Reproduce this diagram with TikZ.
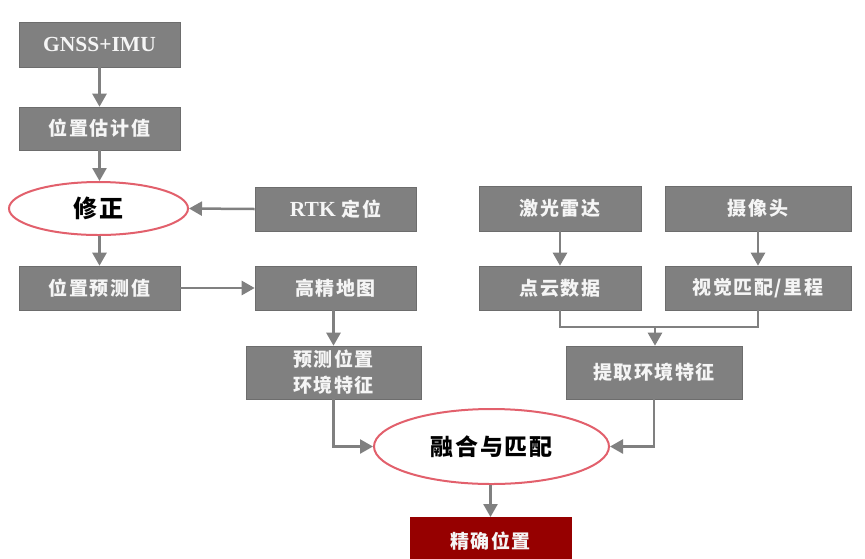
\documentclass[tikz,border=0pt]{standalone}
\usepackage{fontspec}
\setmainfont{Liberation Serif}
\newfontfamily\cjk[LetterSpace=8]{Noto Sans CJK SC}
\usetikzlibrary{arrows.meta,shapes.geometric,calc}
\definecolor{boxgray}{RGB}{128,128,128}
\definecolor{ringred}{RGB}{226,96,108}
\definecolor{darkred}{RGB}{150,0,0}
\definecolor{txtwhite}{RGB}{245,245,245}
\newcommand{\lat}[1]{{\rmfamily\fontsize{21.5}{23}\selectfont\bfseries #1}}
\begin{document}
\begin{tikzpicture}[x=1pt,y=-1pt,
  graybox/.style={rectangle,fill=boxgray,draw=boxgray!85!black,line width=0.6pt,text=txtwhite,
    font=\cjk\fontsize{19}{24}\selectfont\bfseries,inner sep=0pt,align=center},
  redbox/.style={graybox,fill=darkred,draw=darkred},
  ring/.style={ellipse,draw=ringred,line width=2pt,fill=white,text=black,inner sep=0pt,
    font=\cjk\fontsize{23}{26}\selectfont\bfseries},
  conn/.style={draw=boxgray,line width=2.5pt},
  arr/.style={conn,-{Triangle[length=13pt,width=14pt]}}
]
\useasboundingbox (0,0) rectangle (865,558);
% left column
\node[graybox,minimum width=161pt,minimum height=45pt] (gnss) at (99.5,44.5) {\lat{GNSS+IMU}};
\node[graybox,minimum width=161pt,minimum height=43pt] (est) at (99.5,128.5) {位置估计值};
\node[ring,minimum width=179pt,minimum height=53pt] (fix) at (98.5,208.5) {\fontsize{24}{26}\selectfont 修正};
\node[graybox,minimum width=161pt,minimum height=44pt] (rtk) at (335.5,209) {\lat{RTK} 定位};
\node[graybox,minimum width=161pt,minimum height=44pt] (pred) at (99.5,288) {位置预测值};
\node[graybox,minimum width=161pt,minimum height=44pt] (map) at (335.5,288) {高精地图};
\node[graybox,minimum width=175pt,minimum height=53pt] (predenv) at (333.5,372.5) {预测位置\\[2pt]环境特征};
% right column
\node[graybox,minimum width=162pt,minimum height=45pt] (lidar) at (560,208.5) {激光雷达};
\node[graybox,minimum width=186pt,minimum height=45pt] (cam) at (758,208.5) {摄像头};
\node[graybox,minimum width=162pt,minimum height=44pt] (cloud) at (560,288) {点云数据};
\node[graybox,minimum width=186pt,minimum height=44pt] (vis) at (758,288) {视觉匹配/里程};
\node[graybox,minimum width=176pt,minimum height=53pt] (extract) at (654,372.5) {提取环境特征};
% bottom
\node[ring,minimum width=235pt,minimum height=75pt] (fuse) at (491.5,446.5) {融合与匹配};
\node[redbox,minimum width=161pt,minimum height=48pt,anchor=north] (final) at (490.5,517) {精确位置};
\coordinate (merge) at (655,327);
% connectors
\draw[arr] (gnss.south) -- (est.north);
\draw[arr] (est.south) -- (est.south |- fix.north);
\draw[arr] (rtk.west) -- (fix.east);
\draw[arr] (fix.south -| pred.north) -- (pred.north);
\draw[arr] (pred.east) -- (map.west);
\draw[arr] (predenv.north |- map.south) -- (predenv.north);
\draw[arr] (lidar.south) -- (cloud.north);
\draw[arr] (cam.south) -- (vis.north);
\draw[conn] (cloud.south) -- (cloud.south |- merge) -- (vis.south |- merge) -- (vis.south);
\draw[arr] (merge) -- (merge |- extract.north);
\draw[arr] (predenv.south) |- (fuse.west);
\draw[arr] (extract.south) |- (fuse.east);
\draw[arr] (fuse.south -| final.north) -- (final.north);
\end{tikzpicture}
\end{document}
